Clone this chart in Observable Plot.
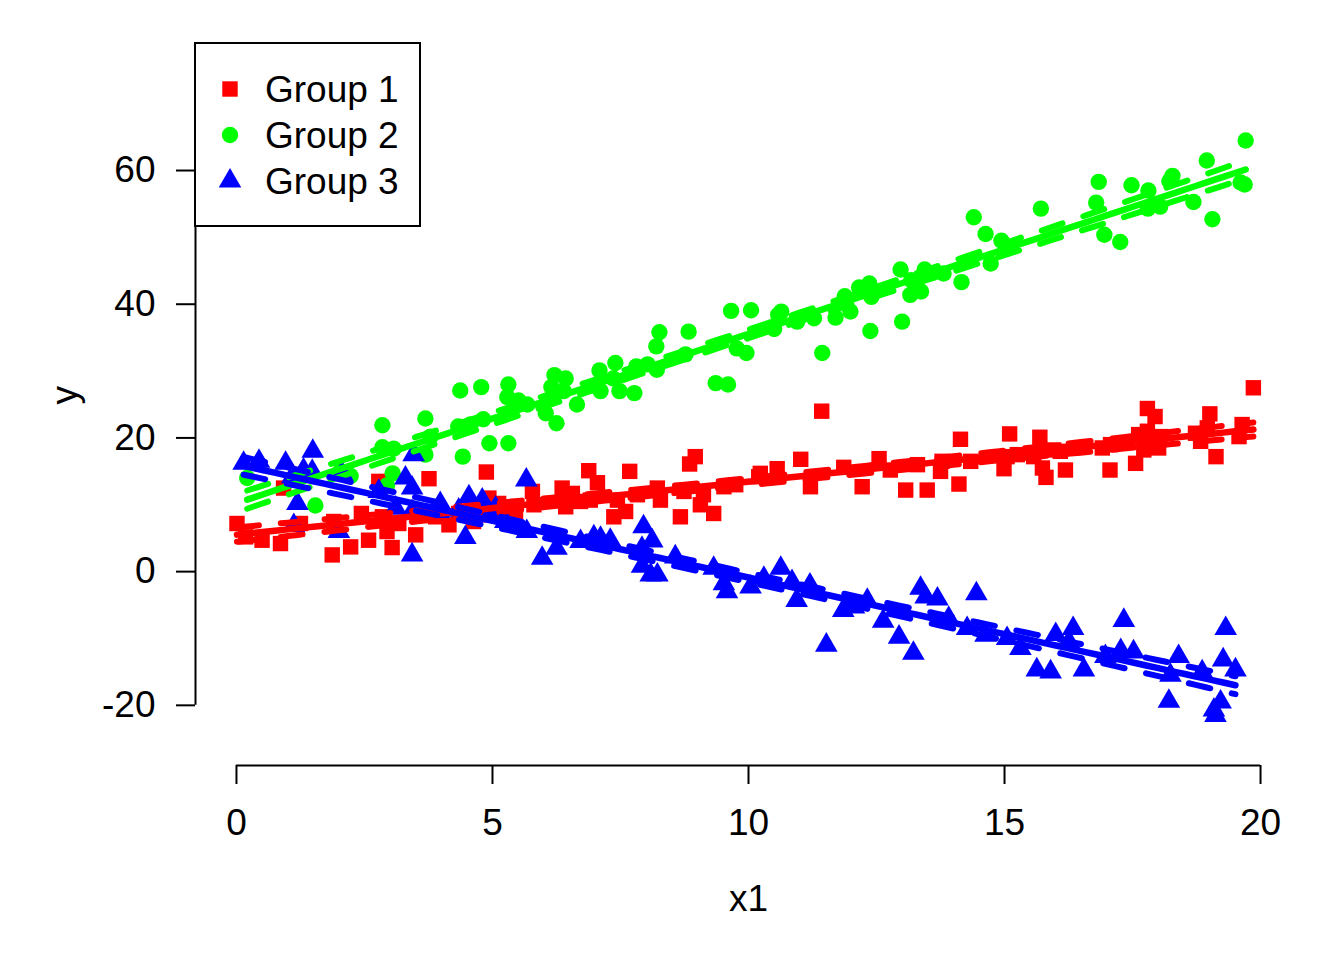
<!DOCTYPE html>
<html><head><meta charset="utf-8">
<script src="https://cdn.jsdelivr.net/npm/d3@7"></script>
<script src="https://cdn.jsdelivr.net/npm/@observablehq/plot@0.6"></script>
<style>
html,body{margin:0;padding:0;background:#fff;}
#chart{width:1344px;height:960px;}
</style></head><body><div id="chart"></div>
<script>
// ---- data ----
const g1x = [0.01,0.92,2.78,3.76,4.88,1.87,2.23,2.58,3.04,3.50,2.94,2.44,1.90,1.25,0.86,0.50,0.18,2.85,3.17,4.15,4.63,4.93,3.89,4.34,4.90,
  6.88,8.96,8.85,7.68,7.05,6.36,6.56,5.78,5.81,5.45,6.43,6.72,6.91,7.44,7.60,7.37,7.83,8.22,8.28,8.74,8.67,9.06,9.32,9.52,9.12,9.75,10.20,5.12,
  11.43,11.02,10.23,10.56,11.21,11.86,12.22,12.55,12.77,13.07,13.49,13.30,13.78,13.75,14.14,14.11,14.34,14.99,15.10,15.05,15.25,15.69,15.57,15.74,15.81,15.96,16.09,16.19,16.91,17.07,17.06,17.56,17.79,17.94,17.62,17.79,17.72,18.05,18.01,18.73,18.83,19.01,18.96,19.13,19.58,19.86,19.64];
const g1y = [7.2,12.5,13.5,13.9,14.9,2.5,3.7,4.7,3.6,5.5,6.0,8.7,7.5,7.2,4.2,4.7,5.2,8.2,7.2,7.0,7.5,11.0,8.2,8.7,8.5,
  15.1,17.2,16.1,15.0,13.3,12.5,11.7,12.0,10.0,8.2,9.7,10.5,10.7,10.7,9.0,8.2,11.5,12.5,10.7,12.0,8.2,10.0,8.7,12.7,11.5,13.0,14.2,10.2,
  24.0,16.8,14.7,15.4,12.7,15.6,12.7,16.9,15.2,12.2,12.2,16.0,16.5,15.0,19.8,13.1,16.5,15.4,20.6,17.2,17.5,20.1,17.2,15.5,14.1,18.2,18.0,15.2,18.5,19.0,15.2,16.2,24.4,23.2,20.5,21.0,18.2,20.2,18.5,20.7,19.5,23.6,21.5,17.2,20.2,27.5,22.0];

const g2x = [0.21,1.54,2.03,2.23,2.85,3.69,2.85,3.05,2.94,3.07,3.79,4.37,4.78,5.31,5.29,5.51,4.33,4.42,4.94,5.31,3.69,4.57,4.82,5.68,6.04,6.25,6.15,6.21,6.43,6.65,6.39,
  7.09,7.40,7.11,7.48,7.77,7.81,7.36,8.03,8.26,8.20,8.21,8.83,8.77,9.36,9.60,9.66,10.05,10.64,10.58,9.77,9.96,10.50,10.95,11.28,11.44,12.38,13.00,11.99,11.70,11.88,12.16,12.36,12.40,
  12.97,13.18,13.16,13.37,13.44,13.81,14.16,14.40,14.63,14.94,14.73,15.71,16.84,16.79,17.48,17.81,16.95,17.26,17.80,18.04,18.28,18.22,18.69,18.95,19.06,19.71,19.61,19.69];
const g2y = [14.0,9.9,15.0,14.3,21.9,22.9,18.6,14.7,12.9,18.4,20.2,27.1,27.6,28.0,26.1,25.6,21.7,17.2,19.2,19.2,17.5,22.0,22.8,25.0,23.7,22.2,27.6,29.4,28.9,25.0,27.0,
  30.1,31.2,27.0,27.0,26.7,30.7,28.9,31.0,35.8,33.7,30.2,35.9,32.5,28.2,28.0,39.0,39.1,38.9,38.4,33.4,32.7,36.3,37.4,37.9,32.7,36.0,37.4,38.9,38.0,41.2,42.5,43.1,41.1,
  45.2,43.6,41.4,41.9,45.2,44.6,43.3,53.0,50.5,49.5,46.1,54.3,58.3,55.2,57.8,57.0,50.4,49.3,54.3,54.6,59.2,58.4,55.3,61.5,52.7,64.5,58.2,57.9];

const g3x = [0.14,0.44,0.96,1.49,1.31,1.48,1.09,1.19,1.12,2.00,2.06,3.46,3.30,3.43,2.78,3.98,4.54,4.80,4.34,4.47,3.43,3.43,3.11,3.95,4.96,
  5.66,5.06,5.25,5.97,6.25,6.98,7.11,7.30,6.72,7.95,8.12,7.92,7.92,8.09,8.22,8.57,9.32,9.52,9.58,10.04,5.67,
  10.63,10.30,10.85,10.94,11.20,11.52,11.85,12.06,12.32,12.63,12.94,13.22,13.36,13.46,13.69,14.45,13.91,14.27,14.63,15.05,15.31,15.63,15.90,16.00,16.26,16.34,16.55,16.97,17.33,17.27,17.52,18.21,18.40,18.24,18.86,19.32,19.27,19.51,19.22,19.09,19.12];
const g3y = [16.2,16.5,16.2,18.0,15.2,15.0,14.2,10.2,6.9,6.0,14.7,17.5,14.0,12.5,12.0,10.2,11.2,10.7,9.2,5.1,2.5,9.0,9.5,9.0,8.7,
  13.7,9.5,7.5,2.0,3.5,5.2,5.0,4.7,4.5,6.7,4.6,3.5,0.8,-0.5,-0.5,2.2,0.5,-1.8,-3.0,-2.3,6.0,
  0.5,-1.0,-1.5,-4.3,-2.0,-11.0,-5.8,-5.3,-4.3,-7.4,-9.8,-12.2,-2.5,-3.8,-4.1,-3.3,-7.0,-8.5,-9.5,-10.0,-11.5,-14.7,-15.0,-9.4,-10.5,-8.5,-14.7,-12.7,-7.3,-11.8,-12.0,-19.4,-12.7,-15.5,-15.0,-8.5,-13.2,-14.7,-19.5,-20.7,-21.5];

const groupNames = ["Group 1", "Group 2", "Group 3"];
const groupColors = ["#FF0000", "#00FF00", "#0000FF"];
const groupSymbols = ["square", "circle", "triangle"];
const groupRadius = [8.7, 8.2, 8.4];
const xTicks = [0, 5, 10, 15, 20];
const yTicks = [-20, 0, 20, 40, 60];
const xDomain = [-0.8, 20.8];
const yDomain = [-29, 79];
const xLabel = "x1";
const yLabel = "y";

// ---- helpers ----
const xs = [g1x, g2x, g3x], ys = [g1y, g2y, g3y];
const groups = xs.map((gx, i) => gx.map((x, j) => ({x, y: ys[i][j], g: i})));

function fitBand(pts) {
  const n = pts.length;
  const mx = d3.mean(pts, d => d.x), my = d3.mean(pts, d => d.y);
  const sxx = d3.sum(pts, d => (d.x - mx) ** 2);
  const sxy = d3.sum(pts, d => (d.x - mx) * (d.y - my));
  const b = sxy / sxx, a = my - b * mx;
  const s = Math.sqrt(d3.sum(pts, d => (d.y - a - b * d.x) ** 2) / (n - 2));
  const t = 1.985;
  const [x0, x1] = d3.extent(pts, d => d.x);
  return d3.range(0, 101).map(k => {
    const x = x0 + (x1 - x0) * k / 100;
    const f = a + b * x;
    const se = s * Math.sqrt(1 / n + (x - mx) ** 2 / sxx);
    return {x, fit: f, lwr: f - t * se, upr: f + t * se};
  });
}
const bands = groups.map(fitBand);

const FS = 37;
const marks = [];
groups.forEach((pts, i) => {
  marks.push(Plot.dot(pts, {x: "x", y: "y", symbol: groupSymbols[i], fill: groupColors[i], r: groupRadius[i], stroke: "none"}));
});
bands.forEach((band, i) => {
  marks.push(Plot.line(band, {x: "x", y: "fit", stroke: groupColors[i], strokeWidth: 6.5}));
  marks.push(Plot.line(band, {x: "x", y: "upr", stroke: groupColors[i], strokeWidth: 6, strokeDasharray: "22,22"}));
  marks.push(Plot.line(band, {x: "x", y: "lwr", stroke: groupColors[i], strokeWidth: 6, strokeDasharray: "22,22"}));
});

// axes (R-style, detached lines spanning tick range)
marks.push(Plot.ruleY([yDomain[0]], {x1: d3.min(xTicks), x2: d3.max(xTicks), stroke: "black", strokeWidth: 2}));
marks.push(Plot.ruleX([xDomain[0]], {y1: d3.min(yTicks), y2: d3.max(yTicks), stroke: "black", strokeWidth: 2}));
marks.push(Plot.axisX(xTicks, {anchor: "bottom", tickSize: 19, tickPadding: 24, strokeWidth: 2, fontSize: FS, label: null, tickFormat: d => String(d)}));
marks.push(Plot.axisY(yTicks, {anchor: "left", tickSize: 19, tickPadding: 21, strokeWidth: 2, fontSize: FS, label: null, tickFormat: d => String(d)}));
marks.push(Plot.text([xLabel], {frameAnchor: "bottom", dy: 134, fontSize: FS, lineAnchor: "middle"}));
marks.push(Plot.text([yLabel], {frameAnchor: "left", dx: -130, rotate: -90, fontSize: FS, lineAnchor: "middle"}));

const chart = Plot.plot({
  width: 1344, height: 960,
  marginLeft: 195, marginRight: 43, marginTop: 43, marginBottom: 195,
  x: {domain: xDomain, axis: null},
  y: {domain: yDomain, axis: null},
  style: {fontFamily: "'Liberation Sans', Arial, sans-serif", fontSize: FS + "px", color: "black", background: "white"},
  marks
});
document.getElementById("chart").appendChild(chart);

// ---- legend (top-left inside plot region, like R's legend("topleft")) ----
const svg = d3.select(chart);
const lg = svg.append("g").attr("class", "legend").attr("text-anchor", "start");
lg.append("rect").attr("x", 195).attr("y", 43).attr("width", 225).attr("height", 183)
  .attr("fill", "white").attr("stroke", "black").attr("stroke-width", 2);
const symMap = {square: d3.symbolSquare, circle: d3.symbolCircle, triangle: d3.symbolTriangle};
const rowY = [89, 135, 181];
groupNames.forEach((name, i) => {
  const r = groupRadius[i];
  lg.append("path")
    .attr("d", d3.symbol(symMap[groupSymbols[i]], Math.PI * r * r)())
    .attr("transform", `translate(230,${rowY[i]})`)
    .attr("fill", groupColors[i]);
  lg.append("text").attr("x", 265).attr("y", rowY[i]).attr("dy", "0.35em")
    .attr("text-anchor", "start")
    .attr("font-family", "'Liberation Sans', Arial, sans-serif").attr("font-size", FS)
    .attr("fill", "black").text(name);
});
</script>
</body></html>
